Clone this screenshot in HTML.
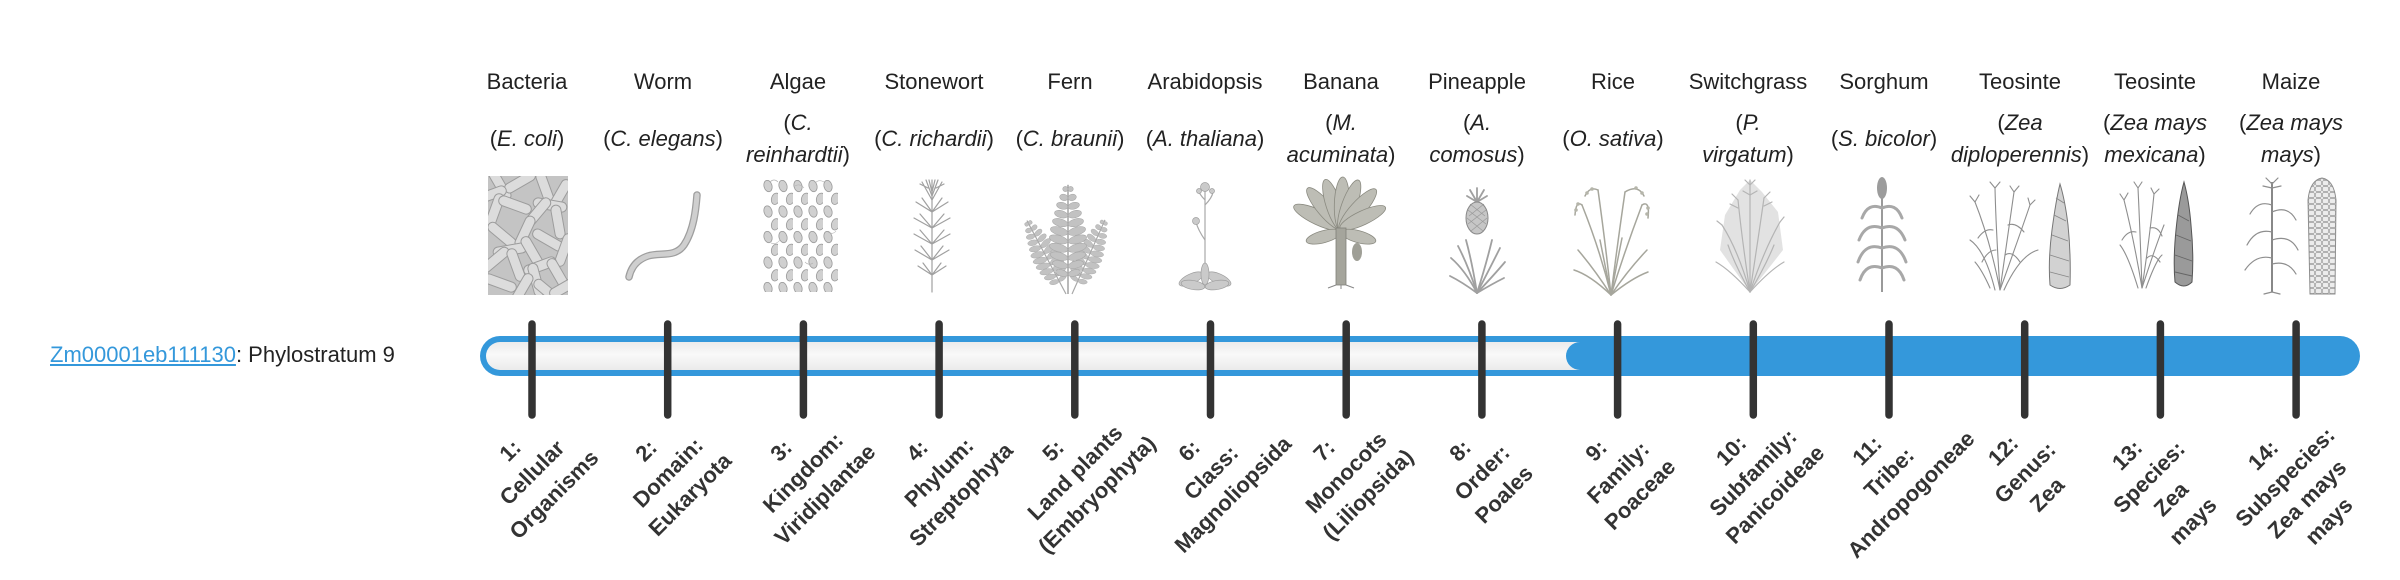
<!DOCTYPE html>
<html><head><meta charset="utf-8">
<style>
html,body{margin:0;padding:0;background:#fff;}
body{width:2400px;height:580px;position:relative;overflow:hidden;font-family:"Liberation Sans",Arial,sans-serif;color:#222;}
svg{position:absolute;left:0;top:0;}
.h,.s{position:absolute;width:140px;text-align:center;font-size:22px;line-height:32px;white-space:nowrap;}
.h{top:66px;}
.s{top:123px;}
.s.t{top:107px;}
.s i{font-style:italic;}
.lb{position:absolute;top:426px;transform:translateX(-50%) rotate(-45deg);white-space:nowrap;text-align:center;font-weight:bold;font-size:22px;line-height:31px;color:#333;}
.lab{position:absolute;left:50px;top:339px;font-size:22px;line-height:32px;white-space:nowrap;}
.lab a{color:#3498db;text-decoration:underline;}
</style></head><body>
<svg width="2400" height="580" viewBox="0 0 2400 580" xmlns="http://www.w3.org/2000/svg">
<defs>
<clipPath id="cb"><rect x="488" y="176" width="80" height="119"/></clipPath>
<pattern id="alg" x="763" y="180" width="15" height="25.5" patternUnits="userSpaceOnUse">
<ellipse cx="5" cy="6" rx="4" ry="5.8" fill="#d0d0d0" stroke="#9a9a9a" stroke-width="0.8" transform="rotate(-15 5 6)"/>
<ellipse cx="12.5" cy="18.8" rx="4" ry="5.8" fill="#d0d0d0" stroke="#9a9a9a" stroke-width="0.8" transform="rotate(15 12.5 18.8)"/>
</pattern>
<pattern id="cob" x="2308" y="180" width="7" height="6" patternUnits="userSpaceOnUse">
<rect x="0.5" y="0.5" width="6" height="5" rx="1.5" fill="#ececec" stroke="#9a9a9a" stroke-width="0.7"/>
</pattern>
<linearGradient id="bg" x1="0" y1="0" x2="0" y2="1">
<stop offset="0" stop-color="#ebebeb"/><stop offset="0.45" stop-color="#f9f9f9"/><stop offset="1" stop-color="#ebebeb"/>
</linearGradient>
<g id="frond">
<line x1="0" y1="0" x2="0" y2="-104" stroke="#a8a8a8" stroke-width="1.5"/>
<g fill="#c2c2c2" stroke="#a5a5a5" stroke-width="0.5">
<ellipse cx="-2.5" cy="-100" rx="2.5" ry="2.5"/><ellipse cx="2.5" cy="-100" rx="2.5" ry="2.5"/>
<ellipse cx="-4" cy="-92" rx="4" ry="3" transform="rotate(15 -4 -92)"/><ellipse cx="4" cy="-92" rx="4" ry="3" transform="rotate(-15 4 -92)"/>
<ellipse cx="-5.5" cy="-84" rx="5.5" ry="3.2" transform="rotate(15 -5.5 -84)"/><ellipse cx="5.5" cy="-84" rx="5.5" ry="3.2" transform="rotate(-15 5.5 -84)"/>
<ellipse cx="-6.5" cy="-76" rx="6.5" ry="3.4" transform="rotate(15 -6.5 -76)"/><ellipse cx="6.5" cy="-76" rx="6.5" ry="3.4" transform="rotate(-15 6.5 -76)"/>
<ellipse cx="-7.5" cy="-68" rx="7.5" ry="3.6" transform="rotate(15 -7.5 -68)"/><ellipse cx="7.5" cy="-68" rx="7.5" ry="3.6" transform="rotate(-15 7.5 -68)"/>
<ellipse cx="-8.5" cy="-60" rx="8.5" ry="3.8" transform="rotate(15 -8.5 -60)"/><ellipse cx="8.5" cy="-60" rx="8.5" ry="3.8" transform="rotate(-15 8.5 -60)"/>
<ellipse cx="-9" cy="-52" rx="9" ry="3.8" transform="rotate(15 -9 -52)"/><ellipse cx="9" cy="-52" rx="9" ry="3.8" transform="rotate(-15 9 -52)"/>
<ellipse cx="-9" cy="-44" rx="9" ry="3.8" transform="rotate(15 -9 -44)"/><ellipse cx="9" cy="-44" rx="9" ry="3.8" transform="rotate(-15 9 -44)"/>
<ellipse cx="-8.5" cy="-36" rx="8.5" ry="3.6" transform="rotate(15 -8.5 -36)"/><ellipse cx="8.5" cy="-36" rx="8.5" ry="3.6" transform="rotate(-15 8.5 -36)"/>
<ellipse cx="-7.5" cy="-28" rx="7.5" ry="3.4" transform="rotate(15 -7.5 -28)"/><ellipse cx="7.5" cy="-28" rx="7.5" ry="3.4" transform="rotate(-15 7.5 -28)"/>
<ellipse cx="-6" cy="-20" rx="6" ry="3" transform="rotate(15 -6 -20)"/><ellipse cx="6" cy="-20" rx="6" ry="3" transform="rotate(-15 6 -20)"/>
</g>
</g>
</defs>

<!-- Bacteria -->
<g clip-path="url(#cb)" fill="#dcdcdc" stroke="#9c9c9c" stroke-width="1">
<rect x="488" y="176" width="80" height="119" fill="#c4c4c4" stroke="none"/>
<rect x="-17" y="-5" width="34" height="10" rx="5" transform="translate(500,185) rotate(60)"/>
<rect x="-17" y="-5" width="34" height="10" rx="5" transform="translate(520,182) rotate(-30)"/>
<rect x="-17" y="-5" width="34" height="10" rx="5" transform="translate(545,188) rotate(70)"/>
<rect x="-17" y="-5" width="34" height="10" rx="5" transform="translate(560,195) rotate(-60)"/>
<rect x="-17" y="-5" width="34" height="10" rx="5" transform="translate(490,195) rotate(-20)"/>
<rect x="-17" y="-5" width="34" height="10" rx="5" transform="translate(550,205) rotate(10)"/>
<rect x="-17" y="-5" width="34" height="10" rx="5" transform="translate(495,210) rotate(-70)"/>
<rect x="-17" y="-5" width="34" height="10" rx="5" transform="translate(515,205) rotate(20)"/>
<rect x="-17" y="-5" width="34" height="10" rx="5" transform="translate(538,212) rotate(-50)"/>
<rect x="-17" y="-5" width="34" height="10" rx="5" transform="translate(558,222) rotate(80)"/>
<rect x="-17" y="-5" width="34" height="10" rx="5" transform="translate(502,235) rotate(40)"/>
<rect x="-17" y="-5" width="34" height="10" rx="5" transform="translate(525,232) rotate(-65)"/>
<rect x="-17" y="-5" width="34" height="10" rx="5" transform="translate(548,240) rotate(30)"/>
<rect x="-17" y="-5" width="34" height="10" rx="5" transform="translate(564,250) rotate(-70)"/>
<rect x="-17" y="-5" width="34" height="10" rx="5" transform="translate(510,250) rotate(-10)"/>
<rect x="-17" y="-5" width="34" height="10" rx="5" transform="translate(532,252) rotate(60)"/>
<rect x="-17" y="-5" width="34" height="10" rx="5" transform="translate(495,260) rotate(-40)"/>
<rect x="-17" y="-5" width="34" height="10" rx="5" transform="translate(516,265) rotate(70)"/>
<rect x="-17" y="-5" width="34" height="10" rx="5" transform="translate(540,266) rotate(-20)"/>
<rect x="-17" y="-5" width="34" height="10" rx="5" transform="translate(558,274) rotate(60)"/>
<rect x="-17" y="-5" width="34" height="10" rx="5" transform="translate(536,280) rotate(75)"/>
<rect x="-17" y="-5" width="34" height="10" rx="5" transform="translate(500,283) rotate(20)"/>
<rect x="-17" y="-5" width="34" height="10" rx="5" transform="translate(522,289) rotate(-60)"/>
<rect x="-17" y="-5" width="34" height="10" rx="5" transform="translate(548,292) rotate(40)"/>
<rect x="-17" y="-5" width="34" height="10" rx="5" transform="translate(565,287) rotate(-30)"/>
</g>

<!-- Worm -->
<path d="M697,195 C696,208 694,230 684,245 C675,258 660,252 648,256 C636,260 631,268 629,277" fill="none" stroke="#9e9e9e" stroke-width="7.5" stroke-linecap="round"/>
<path d="M697,195 C696,208 694,230 684,245 C675,258 660,252 648,256 C636,260 631,268 629,277" fill="none" stroke="#cfcfcf" stroke-width="5" stroke-linecap="round"/>

<!-- Algae -->
<rect x="763" y="180" width="75" height="112" fill="url(#alg)"/>
<g stroke="#b0b0b0" stroke-width="0.6" fill="none">
<path d="M770,182 q4,-4 8,0"/><path d="M795,186 q5,-3 9,2"/><path d="M815,183 q4,-4 9,-1"/><path d="M780,240 q-4,5 -9,3"/><path d="M828,232 q5,3 8,-1"/><path d="M805,262 q4,4 8,1"/>
</g>

<!-- Stonewort -->
<g stroke="#a0a0a0" stroke-width="1.2" fill="none" stroke-linecap="round">
<line x1="932" y1="180" x2="932" y2="292"/>
<path d="M932,200 l-10,-18 M932,200 l10,-18 M932,196 l-6,-16 M932,196 l6,-16 M932,192 l-3,-12 M932,192 l3,-12 M928,188 l-8,-4 M936,188 l8,-4"/>
<path d="M932,212 l-16,-10 M932,212 l16,-10 M932,212 l-10,-14 M932,212 l10,-14"/>
<path d="M932,228 l-18,-10 M932,228 l18,-10 M932,228 l-12,-14 M932,228 l12,-14"/>
<path d="M932,244 l-18,-10 M932,244 l18,-10 M932,244 l-12,-14 M932,244 l12,-14"/>
<path d="M932,260 l-17,-10 M932,260 l17,-10 M932,260 l-11,-14 M932,260 l11,-14"/>
<path d="M932,275 l-14,-9 M932,275 l14,-9 M932,275 l-9,-12 M932,275 l9,-12"/>
</g>

<!-- Fern -->
<use href="#frond" transform="translate(1066,294) rotate(-28) scale(0.8)"/>
<use href="#frond" transform="translate(1072,294) rotate(24) scale(0.78)"/>
<use href="#frond" transform="translate(1068,294) scale(1.05)"/>

<!-- Arabidopsis -->
<g stroke="#a8a8a8" stroke-width="1.2" fill="none">
<line x1="1205" y1="186" x2="1205" y2="282"/>
<path d="M1205,240 Q1198,230 1196,222"/><path d="M1205,205 Q1212,198 1213,192"/><path d="M1205,200 Q1199,194 1198,189"/>
</g>
<g fill="#cacaca" stroke="#9e9e9e" stroke-width="0.7">
<circle cx="1205" cy="187" r="4.5"/><circle cx="1199" cy="191" r="2.5"/><circle cx="1212" cy="191" r="2.5"/><circle cx="1196" cy="221" r="3.5"/>
<ellipse cx="1191" cy="279" rx="13" ry="5" transform="rotate(-25 1191 279)"/>
<ellipse cx="1219" cy="279" rx="13" ry="5" transform="rotate(25 1219 279)"/>
<ellipse cx="1193" cy="285" rx="12" ry="4.5" transform="rotate(10 1193 285)"/>
<ellipse cx="1217" cy="285" rx="12" ry="4.5" transform="rotate(-10 1217 285)"/>
<ellipse cx="1205" cy="274" rx="4" ry="11"/>
</g>

<!-- Banana -->
<g fill="#bdbdb5" stroke="#8a8a80" stroke-width="0.8">
<ellipse cx="0" cy="0" rx="27" ry="7.5" transform="translate(1341,228) rotate(-155) translate(25,0)"/>
<ellipse cx="0" cy="0" rx="27" ry="7.5" transform="translate(1341,228) rotate(-130) translate(25,0)"/>
<ellipse cx="0" cy="0" rx="27" ry="7.5" transform="translate(1341,228) rotate(-108) translate(24,0)"/>
<ellipse cx="0" cy="0" rx="27" ry="7.5" transform="translate(1341,228) rotate(-88) translate(24,0)"/>
<ellipse cx="0" cy="0" rx="27" ry="7.5" transform="translate(1341,228) rotate(-70) translate(24,0)"/>
<ellipse cx="0" cy="0" rx="27" ry="7.5" transform="translate(1341,228) rotate(-48) translate(25,0)"/>
<ellipse cx="0" cy="0" rx="25" ry="7" transform="translate(1341,228) rotate(-25) translate(24,0)"/>
<ellipse cx="0" cy="0" rx="18" ry="6" transform="translate(1341,232) rotate(165) translate(18,0)"/>
<ellipse cx="0" cy="0" rx="18" ry="6" transform="translate(1341,232) rotate(15) translate(18,0)"/>
</g>
<rect x="1336" y="228" width="10" height="57" fill="#a5a59c" stroke="#808078" stroke-width="0.8"/>
<ellipse cx="1357" cy="252" rx="5" ry="9" fill="#9f9f96"/>
<path d="M1336,285 l-8,3 M1341,285 l0,4 M1346,285 l8,3" stroke="#888" stroke-width="1"/>

<!-- Pineapple -->
<g stroke="#a0a0a0" stroke-width="1.8" fill="none" stroke-linecap="round">
<path d="M1477,293 Q1465,270 1451,258"/><path d="M1477,293 Q1468,265 1458,246"/><path d="M1477,293 Q1472,262 1466,240"/>
<path d="M1477,293 Q1486,265 1492,240"/><path d="M1477,293 Q1490,268 1500,248"/><path d="M1477,293 Q1494,275 1505,262"/>
<path d="M1477,293 Q1462,282 1450,276"/><path d="M1477,293 Q1492,284 1504,278"/>
<path d="M1477,202 l-7,-12 M1477,202 l0,-14 M1477,202 l7,-12 M1477,202 l-10,-6 M1477,202 l10,-6"/>
</g>
<ellipse cx="1477" cy="218" rx="11" ry="16" fill="#c6c6c6" stroke="#888" stroke-width="1"/>
<path d="M1468,210 l18,14 M1467,218 l16,13 M1470,204 l15,12 M1486,210 l-18,14 M1487,218 l-16,13 M1484,204 l-15,12" stroke="#999" stroke-width="0.7"/>

<!-- Rice -->
<g stroke="#a6a69c" stroke-width="1.5" fill="none" stroke-linecap="round">
<path d="M1611,295 Q1600,250 1582,205"/><path d="M1611,295 Q1605,240 1598,190"/><path d="M1611,295 Q1618,240 1625,192"/>
<path d="M1611,295 Q1625,250 1642,205"/><path d="M1611,295 Q1595,270 1578,250"/><path d="M1611,295 Q1628,270 1647,250"/>
<path d="M1611,295 Q1606,270 1600,240"/><path d="M1611,295 Q1616,268 1622,238"/><path d="M1611,295 Q1590,275 1574,270"/><path d="M1611,295 Q1632,278 1648,272"/>
<path d="M1582,205 Q1576,200 1575,215"/><path d="M1598,190 Q1590,186 1585,196"/><path d="M1625,192 Q1638,184 1644,196"/><path d="M1642,205 Q1650,200 1648,218"/>
</g>
<g fill="#b5b5aa">
<circle cx="1576" cy="210" r="1.8"/><circle cx="1578" cy="204" r="1.8"/><circle cx="1587" cy="193" r="1.8"/><circle cx="1592" cy="189" r="1.8"/>
<circle cx="1636" cy="188" r="1.8"/><circle cx="1642" cy="193" r="1.8"/><circle cx="1648" cy="208" r="1.8"/><circle cx="1647" cy="214" r="1.8"/>
</g>

<!-- Switchgrass -->
<path d="M1750,292 L1720,250 L1725,215 L1740,190 L1750,180 L1762,192 L1778,212 L1783,250 Z" fill="#e2e2e2"/>
<g stroke="#b4b4b4" stroke-width="1.2" fill="none" stroke-linecap="round">
<path d="M1750,292 Q1738,250 1722,225"/><path d="M1750,292 Q1742,240 1738,200"/><path d="M1750,292 Q1750,230 1750,180"/>
<path d="M1750,292 Q1758,240 1764,198"/><path d="M1750,292 Q1764,250 1780,222"/><path d="M1750,292 Q1730,270 1716,262"/>
<path d="M1750,292 Q1770,270 1784,262"/><path d="M1750,292 Q1735,265 1728,245"/><path d="M1750,292 Q1766,265 1774,245"/>
<path d="M1738,200 l-6,-6 M1738,208 l-8,-4 M1764,198 l6,-6 M1764,206 l8,-4 M1750,185 l-5,-5 M1750,185 l5,-5 M1750,195 l-7,-4 M1750,195 l7,-4 M1722,225 l-5,-4 M1780,222 l4,-5"/>
</g>

<!-- Sorghum -->
<line x1="1882" y1="192" x2="1882" y2="292" stroke="#9a9a9a" stroke-width="2"/>
<ellipse cx="1882" cy="188" rx="5" ry="11" fill="#9c9c9c"/>
<g stroke="#a8a8a8" stroke-width="3" fill="none" stroke-linecap="round">
<path d="M1882,208 Q1868,202 1862,218"/><path d="M1882,208 Q1896,202 1902,218"/>
<path d="M1882,228 Q1866,222 1859,240"/><path d="M1882,228 Q1898,222 1905,240"/>
<path d="M1882,248 Q1865,242 1858,262"/><path d="M1882,248 Q1899,242 1906,262"/>
<path d="M1882,268 Q1866,262 1860,280"/><path d="M1882,268 Q1898,262 1904,280"/>
</g>

<!-- Teosinte 1 -->
<g stroke="#8e8e8e" stroke-width="1.1" fill="none" stroke-linecap="round">
<path d="M2000,290 Q1990,240 1975,202"/><path d="M2000,290 Q1996,230 1995,188"/><path d="M2000,290 Q2008,235 2014,192"/><path d="M2000,290 Q2018,240 2030,205"/>
<path d="M1995,290 Q1985,250 1970,240"/><path d="M2004,290 Q2020,255 2038,250"/><path d="M1990,288 Q1982,270 1975,262"/>
<path d="M1975,202 l-5,-6 M1975,202 l4,-7 M1995,188 l-5,-6 M1995,188 l5,-6 M2014,192 l-4,-6 M2014,192 l5,-6 M2030,205 l-2,-7 M2030,205 l5,-5"/>
<path d="M1993,230 Q1985,228 1978,238"/><path d="M2008,225 Q2016,222 2024,232"/><path d="M2005,255 Q2012,250 2020,262"/><path d="M1996,250 Q1988,250 1982,262"/>
</g>
<path d="M2060,184 Q2056,200 2052,230 Q2048,260 2050,285 Q2060,292 2070,285 Q2071,255 2068,225 Q2065,200 2060,184 Z" fill="#d2d2d2" stroke="#777" stroke-width="1"/>
<path d="M2054,215 l12,6 M2052,235 l16,6 M2050,255 l19,6 M2050,272 l19,5 M2056,198 l8,5" stroke="#888" stroke-width="0.9"/>

<!-- Teosinte 2 -->
<g stroke="#8e8e8e" stroke-width="1.1" fill="none" stroke-linecap="round">
<path d="M2142,288 Q2134,240 2124,200"/><path d="M2142,288 Q2140,230 2138,188"/><path d="M2142,288 Q2150,235 2154,194"/><path d="M2142,288 Q2156,245 2164,225"/>
<path d="M2138,288 Q2128,255 2120,245"/><path d="M2146,288 Q2156,260 2162,255"/>
<path d="M2124,200 l-4,-6 M2124,200 l4,-7 M2138,188 l-4,-6 M2138,188 l4,-6 M2154,194 l-3,-6 M2154,194 l5,-5"/>
<path d="M2136,232 Q2128,230 2122,240"/><path d="M2150,228 Q2158,226 2162,236"/><path d="M2147,258 Q2153,252 2160,262"/>
</g>
<path d="M2184,182 Q2179,200 2176,230 Q2173,260 2175,282 Q2184,290 2192,282 Q2194,255 2191,225 Q2189,200 2184,182 Z" fill="#9a9a9a" stroke="#555" stroke-width="1"/>
<path d="M2178,215 l11,6 M2176,235 l15,6 M2175,255 l17,6 M2175,272 l17,4" stroke="#666" stroke-width="0.9"/>

<!-- Maize -->
<line x1="2272" y1="182" x2="2272" y2="292" stroke="#888" stroke-width="2"/>
<g stroke="#8e8e8e" stroke-width="1.2" fill="none" stroke-linecap="round">
<path d="M2272,184 l-6,-6 M2272,184 l6,-6 M2272,188 l-9,-2 M2272,188 l9,-2"/>
<path d="M2272,205 Q2258,200 2250,214"/><path d="M2272,212 Q2288,205 2296,220"/>
<path d="M2272,232 Q2256,228 2247,245"/><path d="M2272,240 Q2290,234 2298,250"/>
<path d="M2272,258 Q2256,254 2245,270"/><path d="M2272,264 Q2288,260 2296,274"/>
<path d="M2272,292 l-8,2 M2272,292 l8,2"/>
</g>
<path d="M2310,294 L2308,200 Q2310,180 2322,178 Q2334,180 2336,200 L2335,294 Z" fill="url(#cob)" stroke="#8e8e8e" stroke-width="1"/>

<!-- Bar -->
<rect x="480" y="336" width="1880" height="40" rx="20" fill="#3498db"/>
<rect x="486" y="342" width="1868" height="28" rx="14" fill="url(#bg)"/>
<rect x="1566" y="342" width="788" height="28" rx="14" fill="#3498db"/>
<rect x="1600" y="342" width="754" height="28" fill="#3498db"/>

<!-- Ticks -->
<g stroke="#333" stroke-width="7.5" stroke-linecap="round">
<line x1="532" y1="324" x2="532" y2="415"/>
<line x1="667.7" y1="324" x2="667.7" y2="415"/>
<line x1="803.4" y1="324" x2="803.4" y2="415"/>
<line x1="939.1" y1="324" x2="939.1" y2="415"/>
<line x1="1074.8" y1="324" x2="1074.8" y2="415"/>
<line x1="1210.5" y1="324" x2="1210.5" y2="415"/>
<line x1="1346.2" y1="324" x2="1346.2" y2="415"/>
<line x1="1481.9" y1="324" x2="1481.9" y2="415"/>
<line x1="1617.6" y1="324" x2="1617.6" y2="415"/>
<line x1="1753.3" y1="324" x2="1753.3" y2="415"/>
<line x1="1889" y1="324" x2="1889" y2="415"/>
<line x1="2024.7" y1="324" x2="2024.7" y2="415"/>
<line x1="2160.4" y1="324" x2="2160.4" y2="415"/>
<line x1="2296.1" y1="324" x2="2296.1" y2="415"/>
</g>
</svg>

<div class="lab"><a>Zm00001eb111130</a>: Phylostratum 9</div>

<div class="h" style="left:457px">Bacteria</div>
<div class="h" style="left:593px">Worm</div>
<div class="h" style="left:728px">Algae</div>
<div class="h" style="left:864px">Stonewort</div>
<div class="h" style="left:1000px">Fern</div>
<div class="h" style="left:1135px">Arabidopsis</div>
<div class="h" style="left:1271px">Banana</div>
<div class="h" style="left:1407px">Pineapple</div>
<div class="h" style="left:1543px">Rice</div>
<div class="h" style="left:1678px">Switchgrass</div>
<div class="h" style="left:1814px">Sorghum</div>
<div class="h" style="left:1950px">Teosinte</div>
<div class="h" style="left:2085px">Teosinte</div>
<div class="h" style="left:2221px">Maize</div>

<div class="s" style="left:457px">(<i>E. coli</i>)</div>
<div class="s" style="left:593px">(<i>C. elegans</i>)</div>
<div class="s t" style="left:728px">(<i>C.</i><br><i>reinhardtii</i>)</div>
<div class="s" style="left:864px">(<i>C. richardii</i>)</div>
<div class="s" style="left:1000px">(<i>C. braunii</i>)</div>
<div class="s" style="left:1135px">(<i>A. thaliana</i>)</div>
<div class="s t" style="left:1271px">(<i>M.</i><br><i>acuminata</i>)</div>
<div class="s t" style="left:1407px">(<i>A.</i><br><i>comosus</i>)</div>
<div class="s" style="left:1543px">(<i>O. sativa</i>)</div>
<div class="s t" style="left:1678px">(<i>P.</i><br><i>virgatum</i>)</div>
<div class="s" style="left:1814px">(<i>S. bicolor</i>)</div>
<div class="s t" style="left:1950px">(<i>Zea</i><br><i>diploperennis</i>)</div>
<div class="s t" style="left:2085px">(<i>Zea mays</i><br><i>mexicana</i>)</div>
<div class="s t" style="left:2221px">(<i>Zea mays</i><br><i>mays</i>)</div>

<div class="lb" style="left:532px">1:<br>Cellular<br>Organisms</div>
<div class="lb" style="left:667.7px">2:<br>Domain:<br>Eukaryota</div>
<div class="lb" style="left:803.4px">3:<br>Kingdom:<br>Viridiplantae</div>
<div class="lb" style="left:939.1px">4:<br>Phylum:<br>Streptophyta</div>
<div class="lb" style="left:1074.8px">5:<br>Land plants<br>(Embryophyta)</div>
<div class="lb" style="left:1210.5px">6:<br>Class:<br>Magnoliopsida</div>
<div class="lb" style="left:1346.2px">7:<br>Monocots<br>(Liliopsida)</div>
<div class="lb" style="left:1481.9px">8:<br>Order:<br>Poales</div>
<div class="lb" style="left:1617.6px">9:<br>Family:<br>Poaceae</div>
<div class="lb" style="left:1753.3px">10:<br>Subfamily:<br>Panicoideae</div>
<div class="lb" style="left:1889px">11:<br>Tribe:<br>Andropogoneae</div>
<div class="lb" style="left:2024.7px">12:<br>Genus:<br>Zea</div>
<div class="lb" style="left:2160.4px">13:<br>Species:<br>Zea<br>mays</div>
<div class="lb" style="left:2296.1px">14:<br>Subspecies:<br>Zea mays<br>mays</div>
</body></html>
